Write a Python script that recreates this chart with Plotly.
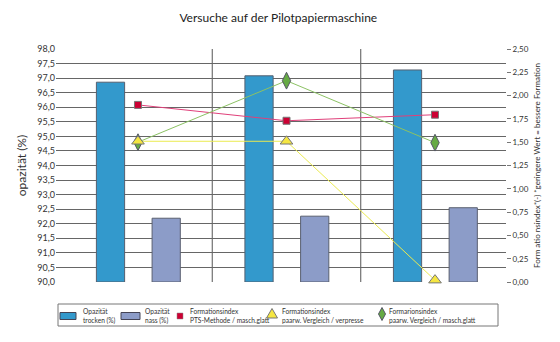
import plotly.graph_objects as go

categories = [0, 1, 2]
opaz_trocken = [96.86, 97.08, 97.28]
opaz_nass = [92.19, 92.26, 92.55]
form_pts = [1.90, 1.73, 1.795]
form_verpresse = [1.51, 1.51, 0.02]
form_glatt = [1.50, 2.16, 1.495]

left_ticks = [90 + 0.5 * i for i in range(17)]
right_ticks = [0.25 * i for i in range(11)]

legend_labels = ["Opazität<br>trocken (%)", "Opazität<br>nass (%)",
                 "Formationsindex<br>PTS-Methode / masch.glatt",
                 "Formationsindex<br>paarw. Vergleich / verpresse",
                 "Formarionsindex<br>paarw. Vergleich / masch.glatt"]

FONT = "Lato"
C_TROCKEN, C_NASS = "#3399cc", "#8c9cc8"
C_RED, C_YEL, C_GRN = "#cc0033", "#f5e642", "#66aa44"

# plot area in pixels
L, R, T, B = 56, 506, 49, 282
W, H = 560, 342
PW, PH = R - L, B - T

def px(xp):
    return (xp - L) / PW

def py(yp):
    return (B - yp) / PH

fig = go.Figure()

fig.add_trace(go.Bar(x=categories, y=[v - 90 for v in opaz_trocken], base=90,
                     width=0.19, offset=-0.28,
                     marker=dict(color=C_TROCKEN, line=dict(color="#556070", width=1)),
                     name=legend_labels[0], yaxis="y", showlegend=False))
fig.add_trace(go.Bar(x=categories, y=[v - 90 for v in opaz_nass], base=90,
                     width=0.19, offset=0.095,
                     marker=dict(color=C_NASS, line=dict(color="#5a6070", width=1)),
                     name=legend_labels[1], yaxis="y", showlegend=False))

fig.add_trace(go.Scatter(x=categories, y=form_pts, mode="lines+markers", yaxis="y2",
                         line=dict(color="#e0407a", width=1), name=legend_labels[2],
                         marker=dict(symbol="square", size=7, color=C_RED, line=dict(color="#777", width=1)),
                         showlegend=False, cliponaxis=False))
fig.add_trace(go.Scatter(x=categories, y=form_glatt, mode="lines+markers", yaxis="y2",
                         line=dict(color="#8cc264", width=1), name=legend_labels[4],
                         marker=dict(symbol="diamond-tall", size=12, color=C_GRN, line=dict(color="#556", width=1)),
                         showlegend=False, cliponaxis=False))
fig.add_trace(go.Scatter(x=categories, y=form_verpresse, mode="lines+markers", yaxis="y2",
                         line=dict(color="#eaea50", width=1), name=legend_labels[3],
                         marker=dict(symbol="triangle-up", size=11, color=C_YEL, line=dict(color="#777", width=1)),
                         showlegend=False, cliponaxis=False))

for xb in [0.5, 1.5]:
    fig.add_shape(type="line", xref="x", yref="paper", x0=xb, x1=xb, y0=0, y1=1,
                  line=dict(color="#555", width=1), layer="below")

# ---- custom legend ----
shapes = []
shapes.append(dict(type="rect", xref="paper", yref="paper", x0=px(58), x1=px(498), y0=py(326), y1=py(304),
                   line=dict(color="#777", width=1), fillcolor="white"))
shapes.append(dict(type="rect", xref="paper", yref="paper", x0=px(60), x1=px(76), y0=py(319.5), y1=py(312.5),
                   line=dict(color="#445", width=1), fillcolor=C_TROCKEN))
shapes.append(dict(type="rect", xref="paper", yref="paper", x0=px(121), x1=px(140), y0=py(319.5), y1=py(312.5),
                   line=dict(color="#445", width=1), fillcolor=C_NASS))
shapes.append(dict(type="rect", xref="paper", yref="paper", x0=px(177), x1=px(183), y0=py(319), y1=py(313),
                   line=dict(color="#888", width=0.5), fillcolor=C_RED))
# triangle
tx, ty = 272, 313.5
shapes.append(dict(type="path", xref="paper", yref="paper",
                   path=f"M {px(tx-5.5)} {py(ty+4.5)} L {px(tx+5.5)} {py(ty+4.5)} L {px(tx)} {py(ty-5)} Z",
                   line=dict(color="#777", width=1), fillcolor=C_YEL))
# diamond
dx, dy = 382, 314
shapes.append(dict(type="path", xref="paper", yref="paper",
                   path=f"M {px(dx)} {py(dy-6.5)} L {px(dx+3.5)} {py(dy)} L {px(dx)} {py(dy+6.5)} L {px(dx-3.5)} {py(dy)} Z",
                   line=dict(color="#556", width=1), fillcolor=C_GRN))
for s in shapes:
    fig.add_shape(**s)

text_x = [81, 143, 188, 280, 387]
for lab, xx in zip(legend_labels, text_x):
    fig.add_annotation(text=lab, xref="paper", yref="paper", x=px(xx), y=py(315.5),
                       xanchor="left", yanchor="middle", align="left", showarrow=False,
                       font=dict(family=FONT, size=6.6, color="#333"))

fig.update_layout(
    width=W, height=H,
    margin=dict(l=L, r=W - R, t=T, b=H - B),
    paper_bgcolor="white", plot_bgcolor="white",
    separators=",.",
    font=dict(family=FONT, size=9, color="#333"),
    title=dict(text="Versuche auf der Pilotpapiermaschine", x=0.497, xanchor="center",
               y=1 - 18 / 342, yanchor="middle", font=dict(size=12, color="#222")),
    xaxis=dict(range=[-0.552, 2.478], showticklabels=False, showgrid=False, zeroline=False,
               ticks="", fixedrange=True),
    yaxis=dict(range=[90, 98], tickvals=left_ticks, tickformat=".1f", showgrid=True,
               gridcolor="#666", gridwidth=1, zeroline=False, ticks="",
               title=dict(text="opazität (%)", font=dict(size=12, color="#333"), standoff=8),
               tickfont=dict(size=9)),
    yaxis2=dict(range=[0, 2.5], tickvals=right_ticks, tickformat=".2f", overlaying="y", side="right",
                showgrid=False, zeroline=False, ticks="outside", ticklen=4, tickcolor="#777",
                tickfont=dict(size=8),
                title=dict(text="Form atio nsindex*(-) *geringere Wert = bessere Formation",
                           font=dict(size=8, color="#333"), standoff=6)),
    barmode="overlay",
    showlegend=False,
)

fig.write_html("out.html")
